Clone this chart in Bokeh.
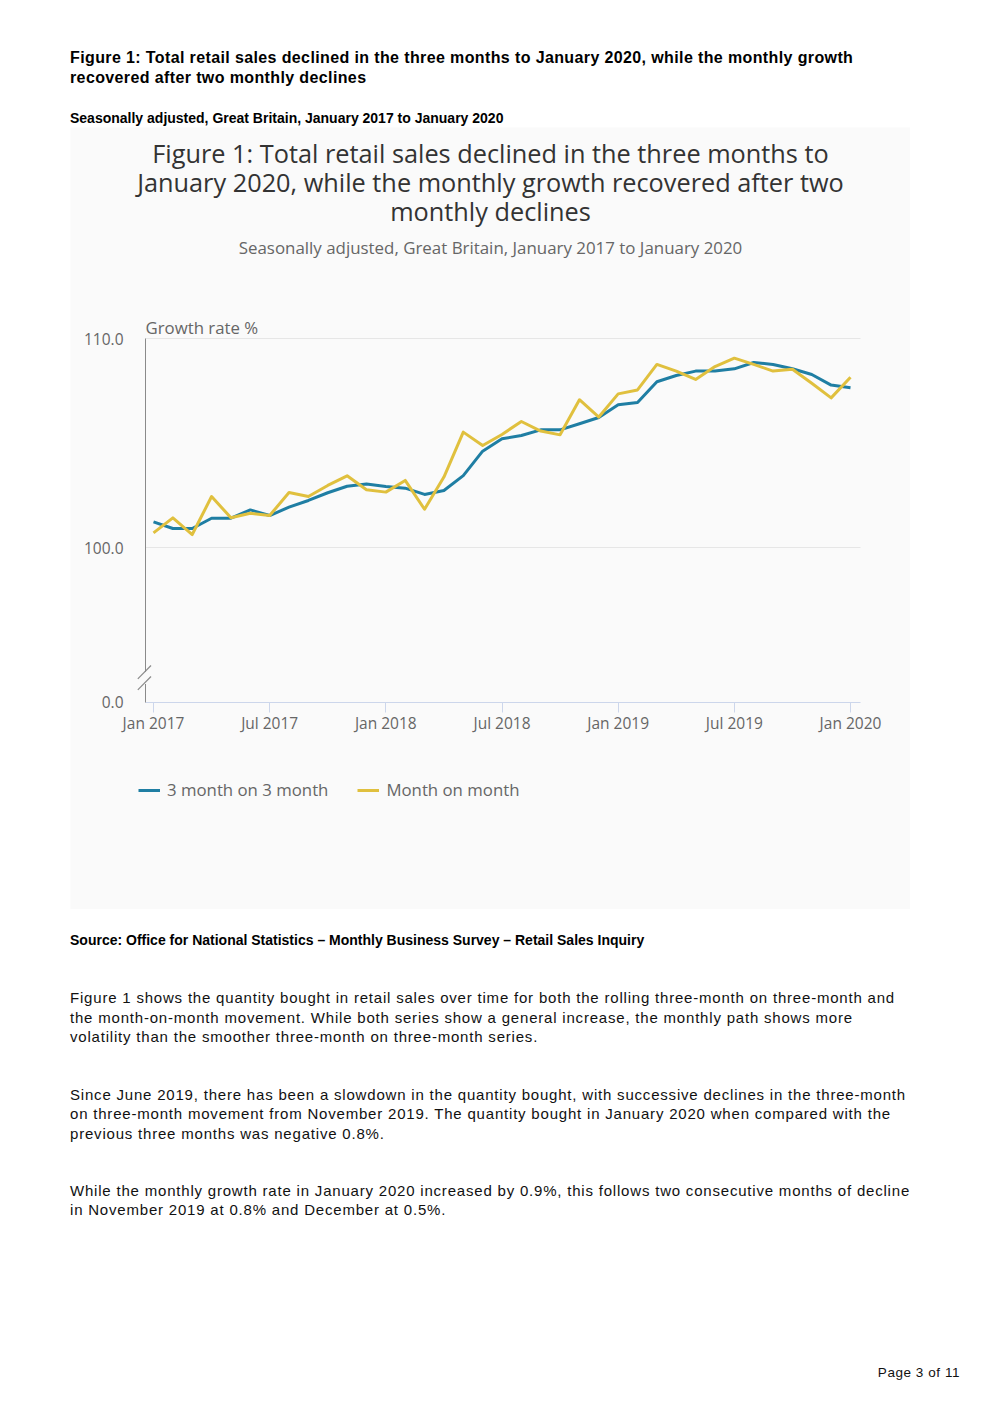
from bokeh.plotting import figure
from bokeh.models import (Range1d, FixedTicker, Label, Legend, LegendItem, Arrow, Div, Spacer)
from bokeh.layouts import column, row
from bokeh.embed import file_html
from bokeh.resources import INLINE

# ---------------- data ----------------
MONTH_INDEX = list(range(37))  # Jan 2017 .. Jan 2020
X_TICKS = [0, 6, 12, 18, 24, 30, 36]
X_TICK_LABELS = ["Jan 2017", "Jul 2017", "Jan 2018", "Jul 2018", "Jan 2019", "Jul 2019", "Jan 2020"]
AXIS_FLOOR = 92.584  # broken axis: bottom of axis is labelled 0.0
Y_TICKS = [AXIS_FLOOR, 100.0, 110.0]
Y_TICK_LABELS = ["0.0", "100.0", "110.0"]
GRID_TICKS = [100.0, 110.0]

THREE_MONTH = [101.23, 100.91, 100.91, 101.40, 101.40, 101.80, 101.53, 101.93, 102.25, 102.62,
               102.93, 103.04, 102.92, 102.84, 102.54, 102.73, 103.44, 104.61, 105.20, 105.36,
               105.63, 105.63, 105.92, 106.22, 106.83, 106.94, 107.93, 108.23, 108.44, 108.45,
               108.55, 108.85, 108.76, 108.55, 108.28, 107.77, 107.64]
MONTH_ON_MONTH = [100.70, 101.42, 100.62, 102.44, 101.42, 101.64, 101.53, 102.63, 102.44, 102.97,
                  103.43, 102.76, 102.65, 103.21, 101.83, 103.37, 105.52, 104.88, 105.41, 106.03,
                  105.57, 105.39, 107.07, 106.24, 107.35, 107.54, 108.76, 108.44, 108.04, 108.66,
                  109.06, 108.76, 108.44, 108.53, 107.86, 107.16, 108.15]
SERIES_NAMES = ["3 month on 3 month", "Month on month"]
CHART_TITLE = ["Figure 1: Total retail sales declined in the three months to",
               "January 2020, while the monthly growth recovered after two",
               "monthly declines"]
CHART_SUBTITLE = "Seasonally adjusted, Great Britain, January 2017 to January 2020"
Y_AXIS_TITLE = "Growth rate %"

# ---------------- styles ----------------
BG = "#fafafa"
BLUE = "#1f7ea3"
YELLOW = "#e0c03e"
GREY_TEXT = "#666666"
TITLE_TEXT = "#333333"
AXIS_GREY = "#8a8a8a"
OS = "Open Sans"

# page px -> data helpers (layout/decoration only)
PX_PER_MONTH = 697 / 36
PX_PER_UNIT = 20.9
def sx(px):
    return (px - 153) / PX_PER_MONTH
def sy(py):
    return 100 + (547 - py) / PX_PER_UNIT

BOX_L, BOX_T, BOX_W, BOX_H = 70, 127, 840, 782
X_LEFT, X_RIGHT = sx(145), sx(860)

p = figure(width=BOX_W, height=BOX_H, output_backend="svg", toolbar_location=None,
           x_range=Range1d(sx(BOX_L), sx(BOX_L + BOX_W)),
           y_range=Range1d(sy(BOX_T + BOX_H), sy(BOX_T)),
           min_border=0, min_border_left=0, min_border_right=0, min_border_top=0, min_border_bottom=0,
           background_fill_color=BG, border_fill_color=BG, outline_line_color=None)

# x axis (placed at the bottom of the value axis)
xa = p.xaxis[0]
xa.fixed_location = AXIS_FLOOR
xa.bounds = (X_LEFT, X_RIGHT)
xa.ticker = FixedTicker(ticks=X_TICKS)
xa.major_label_overrides = dict(zip(X_TICKS, X_TICK_LABELS))
xa.axis_line_color = "#ccd6eb"
xa.major_tick_line_color = "#ccd6eb"
xa.major_tick_out = 10
xa.major_tick_in = 0
xa.minor_tick_line_color = None
xa.major_label_standoff = 0
xa.major_label_text_font = OS
xa.major_label_text_font_size = "15.5px"
xa.major_label_text_color = GREY_TEXT

# y axis
ya = p.yaxis[0]
ya.fixed_location = X_LEFT
ya.bounds = (AXIS_FLOOR, 110.0)
ya.ticker = FixedTicker(ticks=Y_TICKS)
ya.major_label_overrides = dict(zip(Y_TICKS, Y_TICK_LABELS))
ya.axis_line_color = AXIS_GREY
ya.major_tick_line_color = None
ya.major_tick_out = 0
ya.major_tick_in = 0
ya.minor_tick_line_color = None
ya.major_label_standoff = 22
ya.major_label_text_font = OS
ya.major_label_text_font_size = "15.5px"
ya.major_label_text_color = GREY_TEXT

p.xgrid.visible = False
p.ygrid.visible = False
# horizontal grid lines limited to the plot area
p.segment(x0=X_LEFT, y0=GRID_TICKS, x1=X_RIGHT, y1=GRID_TICKS, line_color="#e6e6e6", line_width=1)

r1 = p.line(MONTH_INDEX, THREE_MONTH, line_color=BLUE, line_width=3, line_join="round")
r2 = p.line(MONTH_INDEX, MONTH_ON_MONTH, line_color=YELLOW, line_width=3, line_join="round")

legend = Legend(items=[LegendItem(label=SERIES_NAMES[0], renderers=[r1]),
                       LegendItem(label=SERIES_NAMES[1], renderers=[r2])],
                orientation="horizontal", location=(138 - BOX_L, BOX_T + BOX_H - 801),
                glyph_width=22, glyph_height=20, label_height=20, label_standoff=7,
                spacing=29, padding=0, margin=0, border_line_color=None,
                background_fill_alpha=0, label_text_font=OS, label_text_font_size="16.8px",
                label_text_color=GREY_TEXT, label_text_baseline="middle")
p.add_layout(legend, "center")

# titles inside the chart box
for txt, cy in zip(CHART_TITLE, [152, 181, 210]):
    p.add_layout(Label(x=sx(490), y=sy(cy), text=txt, text_align="center", text_baseline="middle",
                       text_font=OS, text_font_size="25.3px", text_color=TITLE_TEXT))
p.add_layout(Label(x=sx(490), y=sy(247), text=CHART_SUBTITLE,
                   text_align="center", text_baseline="middle", text_font=OS,
                   text_font_size="16.9px", text_color=GREY_TEXT))
p.add_layout(Label(x=X_LEFT, y=sy(327), text=Y_AXIS_TITLE, text_align="left", text_baseline="middle",
                   text_font=OS, text_font_size="16.8px", text_color=GREY_TEXT))

# axis break marks
p.add_layout(Arrow(x_start=X_LEFT, y_start=sy(671.5), x_end=X_LEFT, y_end=sy(683.5),
                   end=None, line_color=BG, line_width=5))
p.add_layout(Arrow(x_start=sx(137.3), y_start=sy(678.3), x_end=sx(150.5), y_end=sy(665),
                   end=None, line_color=AXIS_GREY, line_width=1.2))
p.add_layout(Arrow(x_start=sx(137.3), y_start=sy(689.3), x_end=sx(150.5), y_end=sy(676),
                   end=None, line_color=AXIS_GREY, line_width=1.2))

# ---------------- page text ----------------
FONT = "'Liberation Sans', Arial, Helvetica, sans-serif"

def line(x, cy, text, size, weight="normal", lh=20, ls=0.0, align="left", color="#000"):
    top = cy - lh / 2
    pos = f"left:{x}px;" if align == "left" else f"right:{x}px;"
    return (f'<div style="position:absolute;{pos}top:{top}px;line-height:{lh}px;'
            f'font-family:{FONT};font-size:{size}px;font-weight:{weight};letter-spacing:{ls}px;'
            f'color:{color};white-space:nowrap;">{text}</div>')

PAGE_W = 984
HEAD_H = BOX_T
head_html = (f'<div style="position:relative;width:{PAGE_W}px;height:{HEAD_H}px;">'
             + line(70, 58, "Figure 1: Total retail sales declined in the three months to January 2020, while the monthly growth", 16, "bold", ls=0.38)
             + line(70, 78, "recovered after two monthly declines", 16, "bold", ls=0.38)
             + line(70, 118, "Seasonally adjusted, Great Britain, January 2017 to January 2020", 14, "bold")
             + '</div>')
header = Div(text=head_html, width=PAGE_W, height=HEAD_H, margin=0)

para1 = ["Figure 1 shows the quantity bought in retail sales over time for both the rolling three-month on three-month and",
         "the month-on-month movement. While both series show a general increase, the monthly path shows more",
         "volatility than the smoother three-month on three-month series."]
para2 = ["Since June 2019, there has been a slowdown in the quantity bought, with successive declines in the three-month",
         "on three-month movement from November 2019. The quantity bought in January 2020 when compared with the",
         "previous three months was negative 0.8%."]
para3 = ["While the monthly growth rate in January 2020 increased by 0.9%, this follows two consecutive months of decline",
         "in November 2019 at 0.8% and December at 0.5%."]

FOOT_TOP = BOX_T + BOX_H
FOOT_H = 1400 - FOOT_TOP
def fy(page_y):
    return page_y - FOOT_TOP

foot = f'<div style="position:relative;width:{PAGE_W}px;height:{FOOT_H}px;">'
foot += line(70, fy(940), "Source: Office for National Statistics – Monthly Business Survey – Retail Sales Inquiry", 14, "bold")
for lines, cys in [(para1, [998, 1018, 1037]), (para2, [1095, 1114, 1134]), (para3, [1191, 1210])]:
    for t, cy in zip(lines, cys):
        foot += line(70, fy(cy), t, 15, ls=0.8, color="#111")
foot += line(PAGE_W - 960, fy(1373), "Page 3 of 11", 13.5, ls=0.55, align="right", color="#111")
foot += '</div>'
footer = Div(text=foot, width=PAGE_W, height=FOOT_H, margin=0)

layout = column(header, row(Spacer(width=BOX_L, height=BOX_H, margin=0), p, margin=0, spacing=0),
                footer, margin=0, spacing=0)

open("out.html", "w").write(file_html(layout, INLINE))
